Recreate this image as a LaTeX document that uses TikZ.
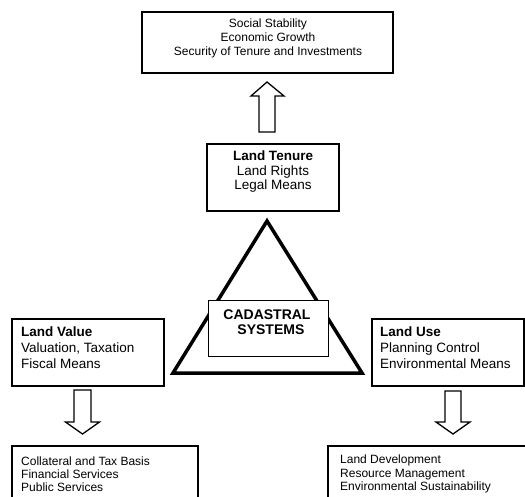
\documentclass[tikz,border=0pt]{standalone}
\usepackage{fontspec}
\setmainfont{Liberation Sans}
\usetikzlibrary{calc}
\tikzset{
  box/.style={draw=black, line width=1.6bp, fill=white, inner sep=0pt},
  corebox/.style={draw=black, line width=1bp, fill=white, inner sep=0pt},
  blockarrow/.style={draw=black, line width=1.3bp, fill=white, line join=miter},
  small/.style={inner sep=0pt, font=\fontsize{12bp}{14bp}\selectfont},
  mid/.style={inner sep=0pt, font=\fontsize{13.5bp}{15.5bp}\selectfont},
}
\begin{document}
\begin{tikzpicture}[x=1bp,y=-1bp]
  \clip (0,0) rectangle (525,497);
  \fill[white] (0,0) rectangle (525,497);

  % outcomes of secure tenure
  \node[box, minimum width=251bp, minimum height=61bp] (goals) at (267.5,42.5) {};
  \node[small, align=center] (goalstxt) at (268,38)
    {Social Stability\\Economic Growth\\Security of Tenure and Investments};

  % tenure
  \node[box, minimum width=132bp, minimum height=67bp] (tenure) at (273,177.5) {};
  \node[mid, align=center, font=\fontsize{13.5bp}{14.5bp}\selectfont] (tenuretxt) at (273,172)
    {\textbf{Land Tenure}\\Land Rights\\Legal Means};

  % the triangle with the core in front
  \coordinate (apex) at (267,221);
  \coordinate (bl) at (173,373);
  \coordinate (br) at (362,373);
  \draw[line width=3.5bp, line join=miter] (apex) -- (bl) -- (br) -- cycle;
  \node[corebox, minimum width=120bp, minimum height=56bp] (core) at (268,328) {};
  \node[inner sep=0pt, align=center, font=\fontsize{14bp}{15bp}\selectfont\bfseries] (coretxt) at (267,322.5)
    {CADASTRAL\\\ \ SYSTEMS};

  % value and use
  \node[box, minimum width=152bp, minimum height=67bp] (value) at (88,352.5) {};
  \node[mid, align=left, anchor=west, font=\fontsize{13.5bp}{16bp}\selectfont] (valuetxt) at (21,348)
    {\textbf{Land Value}\\Valuation, Taxation\\Fiscal Means};
  \node[box, minimum width=152bp, minimum height=67bp] (use) at (448,352.5) {};
  \node[mid, align=left, anchor=west, font=\fontsize{13.5bp}{16bp}\selectfont] (usetxt) at (380,348)
    {\textbf{Land Use}\\Planning Control\\Environmental Means};

  % results, running off the page
  \node[box, minimum width=186bp, minimum height=80bp] (services) at (105,486) {};
  \node[small, align=left, anchor=west, font=\fontsize{12bp}{13bp}\selectfont] (servicestxt) at (21,474)
    {Collateral and Tax Basis\\Financial Services\\Public Services};
  \node[box, minimum width=220bp, minimum height=80bp] (develop) at (438,486) {};
  \node[small, align=left, anchor=west, font=\fontsize{12bp}{13.5bp}\selectfont] (developtxt) at (340,474)
    {Land Development\\Resource Management\\Environmental Sustainability};

  % hollow block arrows
  \draw[blockarrow] (267,82) -- (284,96) -- (275,96) -- (275,132) -- (259,132) -- (259,96) -- (251,96) -- cycle;
  \draw[blockarrow] (74,390) -- (91,390) -- (91,422) -- (99.5,422) -- (82.5,434) -- (65.5,422) -- (74,422) -- cycle;
  \draw[blockarrow] (445,391) -- (461,391) -- (461,422) -- (470,422) -- (453,434) -- (436,422) -- (445,422) -- cycle;
\end{tikzpicture}
\end{document}
